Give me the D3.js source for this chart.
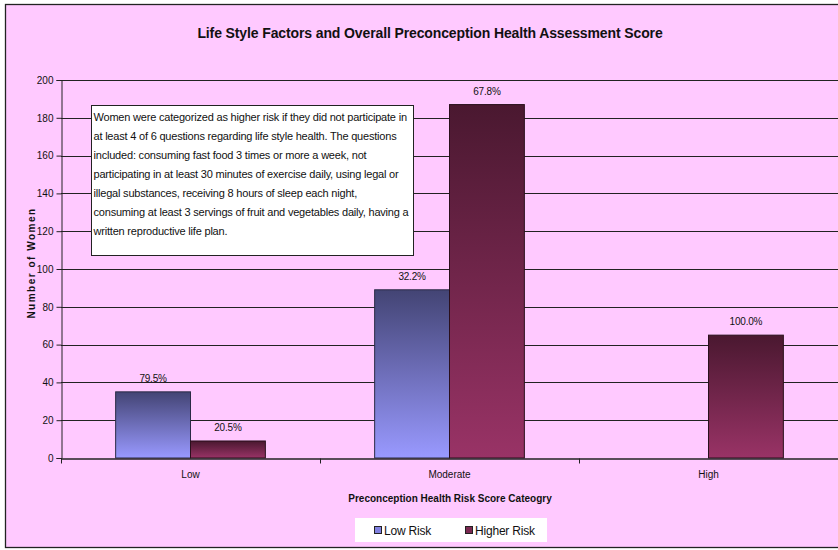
<!DOCTYPE html>
<html>
<head>
<meta charset="utf-8">
<script src="https://cdn.jsdelivr.net/npm/d3@7"></script>
<style>
  body { margin: 0; background: #fff; }
  svg text { font-family: "Liberation Sans", Arial, sans-serif; fill: #111; }
</style>
</head>
<body>
<svg id="chart" width="838" height="550"></svg>
<script>
"use strict";
// values
const categories = ["Low", "Moderate", "High"];
const seriesNames = ["Low Risk", "Higher Risk"];
const lowRisk = [35, 89, 0];
const higherRisk = [9, 187, 65];
const lowRiskLabels = ["79.5%", "32.2%", ""];
const higherRiskLabels = ["20.5%", "67.8%", "100.0%"];
const yTicks = [0, 20, 40, 60, 80, 100, 120, 140, 160, 180, 200];
const noteLines = [
  "Women were categorized as higher risk if they did not participate in",
  "at least 4 of 6 questions regarding life style health.  The questions",
  "included: consuming fast food 3 times or more a week, not",
  "participating in at least 30 minutes of exercise daily, using legal or",
  "illegal substances, receiving 8 hours of sleep each night,",
  "consuming at least 3 servings of fruit and vegetables daily, having a",
  "written reproductive life plan."
];

const svg = d3.select("#chart");
const margin = {left: 61, top: 80, right: 0, bottom: 92};
const W = 838, H = 550;

// chart area
svg.append("rect").attr("x", 5.5).attr("y", 4.5).attr("width", 840).attr("height", 543)
  .attr("fill", "#ffc9ff").attr("stroke", "#222").attr("stroke-width", 1.3);

const x = d3.scaleBand().domain(categories).range([margin.left, W - margin.right]);
const xs = d3.scaleBand().domain(seriesNames).range([0, x.bandwidth()]).paddingOuter(0.73).paddingInner(0);
const y = d3.scaleLinear().domain([0, 200]).range([H - margin.bottom, margin.top]);

const defs = svg.append("defs");
function grad(id, top, bottom){
  const g = defs.append("linearGradient").attr("id", id).attr("x1", 0).attr("y1", 0).attr("x2", 0).attr("y2", 1);
  g.append("stop").attr("offset", "0%").attr("stop-color", top);
  g.append("stop").attr("offset", "100%").attr("stop-color", bottom);
}
grad("gLow", "#434474", "#9999ff");
grad("gHigh", "#4a1830", "#993366");

// gridlines
svg.append("g").selectAll("line").data(yTicks.filter(d => d > 0)).join("line")
  .attr("x1", margin.left).attr("x2", W).attr("y1", d => Math.round(y(d)) + 0.5).attr("y2", d => Math.round(y(d)) + 0.5)
  .attr("stroke", "#222").attr("stroke-width", 1.1);

// y axis
const yAxis = svg.append("g").attr("transform", `translate(${margin.left + 0.5},0)`)
  .call(d3.axisLeft(y).tickValues(yTicks).tickSize(5).tickPadding(3));
yAxis.select(".domain").attr("stroke", "#222");
yAxis.selectAll("line").attr("stroke", "#222");
yAxis.selectAll("text").attr("font-size", 10).attr("font-family", "Liberation Sans, Arial, sans-serif").attr("fill", "#111");

// bars
const series = [
  {name: "Low Risk", values: lowRisk, labels: lowRiskLabels, fill: "url(#gLow)", stroke: "#2a2a45"},
  {name: "Higher Risk", values: higherRisk, labels: higherRiskLabels, fill: "url(#gHigh)", stroke: "#2a0f1c"}
];
series.forEach(s => {
  const g = svg.append("g");
  const d = categories.map((c, i) => ({c, v: s.values[i], l: s.labels[i]}));
  g.selectAll("rect").data(d.filter(e => e.v > 0)).join("rect")
    .attr("x", e => x(e.c) + xs(s.name)).attr("width", xs.bandwidth())
    .attr("y", e => y(e.v)).attr("height", e => y(0) - y(e.v))
    .attr("fill", s.fill).attr("stroke", s.stroke).attr("stroke-width", 1);
  g.selectAll("text").data(d.filter(e => e.l)).join("text")
    .attr("x", e => x(e.c) + xs(s.name) + xs.bandwidth() / 2).attr("y", e => y(e.v) - 10)
    .attr("text-anchor", "middle").attr("font-size", 10).attr("letter-spacing", -0.2).attr("fill", "#222").text(e => e.l);
});

// x axis
const xAxis = svg.append("g").attr("transform", `translate(0,${y(0) + 0.5})`)
  .call(d3.axisBottom(x).tickSize(0).tickPadding(12));
xAxis.select(".domain").attr("stroke", "#222").attr("stroke-width", 1.3);
xAxis.selectAll("text").attr("font-size", 10).attr("font-family", "Liberation Sans, Arial, sans-serif").attr("fill", "#111");
xAxis.selectAll("line.sep").data(categories).join("line").attr("class", "sep")
  .attr("x1", c => x(c) + 0.5).attr("x2", c => x(c) + 0.5).attr("y1", 0).attr("y2", 5).attr("stroke", "#222");

// note box
const note = svg.append("g").attr("transform", "translate(91.5,105.5)");
note.append("rect").attr("width", 322).attr("height", 150).attr("fill", "#fff").attr("stroke", "#222");
note.selectAll("text").data(noteLines).join("text")
  .attr("x", 2).attr("y", (d, i) => 15 + i * 19).attr("font-size", 11).attr("letter-spacing", -0.2)
  .attr("fill", "#111").text(d => d);

// titles
svg.append("text").attr("x", 430).attr("y", 38).attr("text-anchor", "middle")
  .attr("font-size", 14).attr("font-weight", "bold").attr("letter-spacing", -0.12)
  .text("Life Style Factors and Overall Preconception Health Assessment Score");
svg.append("text").attr("x", 450).attr("y", 502).attr("text-anchor", "middle")
  .attr("font-size", 10).attr("font-weight", "bold").text("Preconception Health Risk Score Cateogry");
svg.append("text").attr("transform", "translate(35,263) rotate(-90)").attr("text-anchor", "middle")
  .attr("font-size", 10).attr("font-weight", "bold").attr("letter-spacing", 1.5).text("Number of Women");

// legend
const legend = svg.append("g").attr("transform", "translate(355,518)");
legend.append("rect").attr("width", 192).attr("height", 24).attr("fill", "#fff");
const items = legend.selectAll("g").data(series).join("g")
  .attr("transform", (d, i) => `translate(${19 + i * 91},0)`);
items.append("rect").attr("x", 0.5).attr("y", 8.5).attr("width", 7).attr("height", 7)
  .attr("fill", d => d.name === "Low Risk" ? "#8080e0" : "#7a2850").attr("stroke", "#222");
items.append("text").attr("x", 10).attr("y", 17).attr("font-size", 12).attr("letter-spacing", -0.2).text(d => d.name);
</script>
</body>
</html>
